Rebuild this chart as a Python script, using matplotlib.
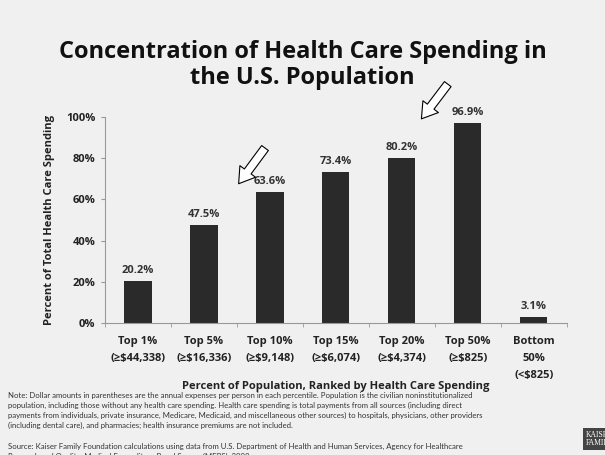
import matplotlib
matplotlib.use("Agg")
import matplotlib.pyplot as plt

plt.rcParams['font.family'] = ['Open Sans', 'DejaVu Sans']
plt.rcParams['text.parse_math'] = False

groups = ["Top 1%", "Top 5%", "Top 10%", "Top 15%", "Top 20%", "Top 50%", "Bottom\n50%"]
spend = ["(≥$44,338)", "(≥$16,336)", "(≥$9,148)", "(≥$6,074)", "(≥$4,374)", "(≥$825)", "(<$825)"]
share = [20.2, 47.5, 63.6, 73.4, 80.2, 96.9, 3.1]
yticks = [0, 20, 40, 60, 80, 100]

bg = "#f0f0f0"
fig = plt.figure(figsize=(6.05, 4.55), dpi=100, facecolor=bg)
ax = fig.add_axes([0.1736, 0.290, 0.7634, 0.453], facecolor=bg)

x = list(range(len(groups)))
ax.bar(x, share, width=0.41, color="#2a2a2a", zorder=2)
for xi, v in zip(x, share):
    ax.text(xi, v + 2.5, f"{v:.1f}%", ha="center", va="bottom", fontsize=8,
            fontweight="bold", color="#333333")

ax.set_xlim(-0.5, len(groups) - 0.5)
ax.set_ylim(0, 100)
ax.set_yticks(yticks)
ax.set_yticklabels([f"{t}%" for t in yticks], fontsize=8, fontweight="bold", color="#222222")
ax.set_xticks(x)
ax.set_xticklabels([f"{g}\n{s}" for g, s in zip(groups, spend)], fontsize=8,
                   fontweight="bold", color="#222222", linespacing=1.75)
ax.set_xticks([i + 0.5 for i in x[:-1]] + [-0.5, len(groups) - 0.5], minor=True)
ax.tick_params(axis="x", which="major", length=0, pad=9)
ax.tick_params(axis="x", which="minor", length=3, color="#999999")
ax.tick_params(axis="y", length=3, color="#999999", pad=4)
for s in ["top", "right"]:
    ax.spines[s].set_visible(False)
for s in ["left", "bottom"]:
    ax.spines[s].set_color("#999999")

ax.set_ylabel("Percent of Total Health Care Spending", fontsize=8, fontweight="bold",
              color="#222222", labelpad=8)
ax.set_xlabel("Percent of Population, Ranked by Health Care Spending", fontsize=8,
              fontweight="bold", color="#222222", labelpad=0)

# hollow arrows
arrow = dict(arrowstyle="simple,head_length=1.1,head_width=1.4,tail_width=0.6",
             facecolor="white", edgecolor="black", lw=0.8)
ax.annotate("", xy=(1.5, 66.5), xytext=(1.95, 86), arrowprops=arrow, annotation_clip=False)
ax.annotate("", xy=(4.27, 98), xytext=(4.72, 117), arrowprops=arrow, annotation_clip=False)

fig.text(0.5, 0.858, "Concentration of Health Care Spending in\nthe U.S. Population",
         ha="center", va="center", fontsize=17, fontweight="bold", color="#111111",
         linespacing=1.1)

note = ("Note: Dollar amounts in parentheses are the annual expenses per person in each percentile. "
        "Population is the civilian noninstitutionalized\npopulation, including those without any "
        "health care spending. Health care spending is total payments from all sources (including direct\n"
        "payments from individuals, private insurance, Medicare, Medicaid, and miscellaneous other "
        "sources) to hospitals, physicians, other providers\n(including dental care), and pharmacies; "
        "health insurance premiums are not included.")
fig.text(0.013, 0.138, note, ha="left", va="top", fontsize=5.6, color="#333333",
         family="Lato", linespacing=1.45)
fig.text(0.013, 0.026, "Source: Kaiser Family Foundation calculations using data from U.S. Department "
         "of Health and Human Services, Agency for Healthcare\nResearch and Quality, Medical Expenditure "
         "Panel Survey (MEPS), 2008.", ha="left", va="top", fontsize=5.6, color="#333333",
         family="Lato", linespacing=1.45)
fig.text(0.968, 0.035, "KAISER\nFAMILY", ha="left", va="center", fontsize=5.5, color="white",
         family="Liberation Serif", linespacing=1.0,
         bbox=dict(facecolor="#444444", edgecolor="none", pad=2))

fig.savefig("out.png", dpi=100, facecolor=bg)
